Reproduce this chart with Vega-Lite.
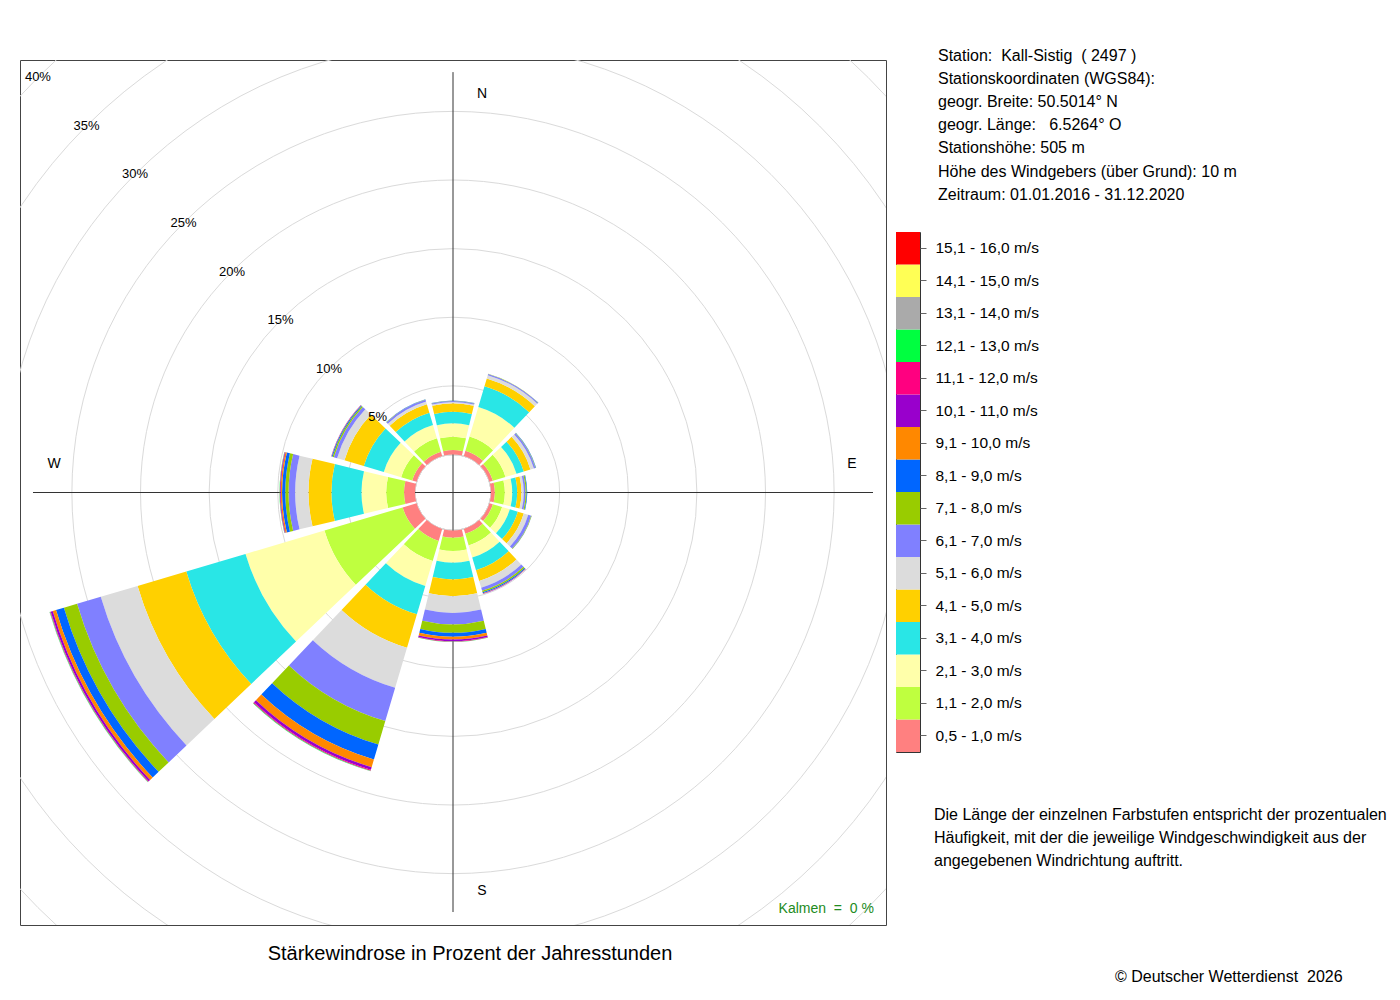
{
  "$schema": "https://vega.github.io/schema/vega-lite/v6.json",
  "padding": {"left": 19, "top": 47, "right": 0, "bottom": 0},
  "config": {
    "font": "Liberation Sans",
    "view": {"stroke": null},
    "title": {"font": "Liberation Sans", "fontWeight": "normal", "color": "black"}
  },
  "datasets": {
    "wind": [
      {"richtung": 0, "klasse": 1, "anteil": 0.33}, {"richtung": 0, "klasse": 2, "anteil": 0.97}, {"richtung": 0, "klasse": 3, "anteil": 0.97},
      {"richtung": 0, "klasse": 4, "anteil": 0.85}, {"richtung": 0, "klasse": 5, "anteil": 0.61}, {"richtung": 0, "klasse": 6, "anteil": 0.10},
      {"richtung": 0, "klasse": 7, "anteil": 0.07}, {"richtung": 0, "klasse": 8, "anteil": 0.02}, {"richtung": 0, "klasse": 9, "anteil": 0.01},

      {"richtung": 30, "klasse": 1, "anteil": 0.41}, {"richtung": 30, "klasse": 2, "anteil": 1.07}, {"richtung": 30, "klasse": 3, "anteil": 2.25},
      {"richtung": 30, "klasse": 4, "anteil": 1.57}, {"richtung": 30, "klasse": 5, "anteil": 0.60}, {"richtung": 30, "klasse": 6, "anteil": 0.25},
      {"richtung": 30, "klasse": 7, "anteil": 0.08}, {"richtung": 30, "klasse": 8, "anteil": 0.02}, {"richtung": 30, "klasse": 9, "anteil": 0.01},

      {"richtung": 60, "klasse": 1, "anteil": 0.26}, {"richtung": 60, "klasse": 2, "anteil": 0.96}, {"richtung": 60, "klasse": 3, "anteil": 0.84},
      {"richtung": 60, "klasse": 4, "anteil": 0.55}, {"richtung": 60, "klasse": 5, "anteil": 0.51}, {"richtung": 60, "klasse": 6, "anteil": 0.26},
      {"richtung": 60, "klasse": 7, "anteil": 0.12}, {"richtung": 60, "klasse": 8, "anteil": 0.03}, {"richtung": 60, "klasse": 9, "anteil": 0.02},

      {"richtung": 90, "klasse": 1, "anteil": 0.28}, {"richtung": 90, "klasse": 2, "anteil": 0.73}, {"richtung": 90, "klasse": 3, "anteil": 0.54},
      {"richtung": 90, "klasse": 4, "anteil": 0.36}, {"richtung": 90, "klasse": 5, "anteil": 0.31}, {"richtung": 90, "klasse": 6, "anteil": 0.17},
      {"richtung": 90, "klasse": 7, "anteil": 0.13}, {"richtung": 90, "klasse": 8, "anteil": 0.08}, {"richtung": 90, "klasse": 9, "anteil": 0.04},

      {"richtung": 120, "klasse": 1, "anteil": 0.26}, {"richtung": 120, "klasse": 2, "anteil": 0.70}, {"richtung": 120, "klasse": 3, "anteil": 0.59},
      {"richtung": 120, "klasse": 4, "anteil": 0.61}, {"richtung": 120, "klasse": 5, "anteil": 0.45}, {"richtung": 120, "klasse": 6, "anteil": 0.34},
      {"richtung": 120, "klasse": 7, "anteil": 0.22}, {"richtung": 120, "klasse": 8, "anteil": 0.04}, {"richtung": 120, "klasse": 9, "anteil": 0.01},

      {"richtung": 150, "klasse": 1, "anteil": 0.37}, {"richtung": 150, "klasse": 2, "anteil": 0.88}, {"richtung": 150, "klasse": 3, "anteil": 0.92},
      {"richtung": 150, "klasse": 4, "anteil": 0.96}, {"richtung": 150, "klasse": 5, "anteil": 0.82}, {"richtung": 150, "klasse": 6, "anteil": 0.51},
      {"richtung": 150, "klasse": 7, "anteil": 0.24}, {"richtung": 150, "klasse": 8, "anteil": 0.11}, {"richtung": 150, "klasse": 9, "anteil": 0.08},
      {"richtung": 150, "klasse": 10, "anteil": 0.03}, {"richtung": 150, "klasse": 11, "anteil": 0.02},

      {"richtung": 180, "klasse": 1, "anteil": 0.52}, {"richtung": 180, "klasse": 2, "anteil": 0.98}, {"richtung": 180, "klasse": 3, "anteil": 0.85},
      {"richtung": 180, "klasse": 4, "anteil": 1.21}, {"richtung": 180, "klasse": 5, "anteil": 1.22}, {"richtung": 180, "klasse": 6, "anteil": 1.22},
      {"richtung": 180, "klasse": 7, "anteil": 0.84}, {"richtung": 180, "klasse": 8, "anteil": 0.61}, {"richtung": 180, "klasse": 9, "anteil": 0.29},
      {"richtung": 180, "klasse": 10, "anteil": 0.20}, {"richtung": 180, "klasse": 11, "anteil": 0.12}, {"richtung": 180, "klasse": 12, "anteil": 0.03},
      {"richtung": 180, "klasse": 13, "anteil": 0.02},

      {"richtung": 210, "klasse": 1, "anteil": 0.91}, {"richtung": 210, "klasse": 2, "anteil": 1.53}, {"richtung": 210, "klasse": 3, "anteil": 1.90},
      {"richtung": 210, "klasse": 4, "anteil": 2.15}, {"richtung": 210, "klasse": 5, "anteil": 2.54}, {"richtung": 210, "klasse": 6, "anteil": 3.04},
      {"richtung": 210, "klasse": 7, "anteil": 2.53}, {"richtung": 210, "klasse": 8, "anteil": 1.78}, {"richtung": 210, "klasse": 9, "anteil": 1.14},
      {"richtung": 210, "klasse": 10, "anteil": 0.58}, {"richtung": 210, "klasse": 11, "anteil": 0.20}, {"richtung": 210, "klasse": 12, "anteil": 0.07},
      {"richtung": 210, "klasse": 13, "anteil": 0.03}, {"richtung": 210, "klasse": 14, "anteil": 0.01},

      {"richtung": 240, "klasse": 1, "anteil": 1.06}, {"richtung": 240, "klasse": 2, "anteil": 5.94}, {"richtung": 240, "klasse": 3, "anteil": 6.00},
      {"richtung": 240, "klasse": 4, "anteil": 4.50}, {"richtung": 240, "klasse": 5, "anteil": 3.70}, {"richtung": 240, "klasse": 6, "anteil": 2.80},
      {"richtung": 240, "klasse": 7, "anteil": 1.80}, {"richtung": 240, "klasse": 8, "anteil": 1.00}, {"richtung": 240, "klasse": 9, "anteil": 0.60},
      {"richtung": 240, "klasse": 10, "anteil": 0.25}, {"richtung": 240, "klasse": 11, "anteil": 0.15}, {"richtung": 240, "klasse": 12, "anteil": 0.05},
      {"richtung": 240, "klasse": 13, "anteil": 0.03}, {"richtung": 240, "klasse": 14, "anteil": 0.02},

      {"richtung": 270, "klasse": 1, "anteil": 0.80}, {"richtung": 270, "klasse": 2, "anteil": 1.30}, {"richtung": 270, "klasse": 3, "anteil": 1.80},
      {"richtung": 270, "klasse": 4, "anteil": 2.19}, {"richtung": 270, "klasse": 5, "anteil": 1.67}, {"richtung": 270, "klasse": 6, "anteil": 0.97},
      {"richtung": 270, "klasse": 7, "anteil": 0.48}, {"richtung": 270, "klasse": 8, "anteil": 0.24}, {"richtung": 270, "klasse": 9, "anteil": 0.23},
      {"richtung": 270, "klasse": 10, "anteil": 0.10}, {"richtung": 270, "klasse": 11, "anteil": 0.05}, {"richtung": 270, "klasse": 12, "anteil": 0.02},
      {"richtung": 270, "klasse": 13, "anteil": 0.02},

      {"richtung": 300, "klasse": 1, "anteil": 0.33}, {"richtung": 300, "klasse": 2, "anteil": 0.84}, {"richtung": 300, "klasse": 3, "anteil": 1.32},
      {"richtung": 300, "klasse": 4, "anteil": 1.52}, {"richtung": 300, "klasse": 5, "anteil": 1.47}, {"richtung": 300, "klasse": 6, "anteil": 0.56},
      {"richtung": 300, "klasse": 7, "anteil": 0.25}, {"richtung": 300, "klasse": 8, "anteil": 0.10}, {"richtung": 300, "klasse": 9, "anteil": 0.06},
      {"richtung": 300, "klasse": 10, "anteil": 0.02}, {"richtung": 300, "klasse": 11, "anteil": 0.02},

      {"richtung": 330, "klasse": 1, "anteil": 0.33}, {"richtung": 330, "klasse": 2, "anteil": 1.02}, {"richtung": 330, "klasse": 3, "anteil": 1.01},
      {"richtung": 330, "klasse": 4, "anteil": 0.94}, {"richtung": 330, "klasse": 5, "anteil": 0.63}, {"richtung": 330, "klasse": 6, "anteil": 0.21},
      {"richtung": 330, "klasse": 7, "anteil": 0.13}, {"richtung": 330, "klasse": 8, "anteil": 0.03}, {"richtung": 330, "klasse": 9, "anteil": 0.01}
    ],
    "klassen": [
      {"klasse": 1, "stufe": "0,5 - 1,0 m/s"},
      {"klasse": 2, "stufe": "1,1 - 2,0 m/s"},
      {"klasse": 3, "stufe": "2,1 - 3,0 m/s"},
      {"klasse": 4, "stufe": "3,1 - 4,0 m/s"},
      {"klasse": 5, "stufe": "4,1 - 5,0 m/s"},
      {"klasse": 6, "stufe": "5,1 - 6,0 m/s"},
      {"klasse": 7, "stufe": "6,1 - 7,0 m/s"},
      {"klasse": 8, "stufe": "7,1 - 8,0 m/s"},
      {"klasse": 9, "stufe": "8,1 - 9,0 m/s"},
      {"klasse": 10, "stufe": "9,1 - 10,0 m/s"},
      {"klasse": 11, "stufe": "10,1 - 11,0 m/s"},
      {"klasse": 12, "stufe": "11,1 - 12,0 m/s"},
      {"klasse": 13, "stufe": "12,1 - 13,0 m/s"},
      {"klasse": 14, "stufe": "13,1 - 14,0 m/s"},
      {"klasse": 15, "stufe": "14,1 - 15,0 m/s"},
      {"klasse": 16, "stufe": "15,1 - 16,0 m/s"}
    ],
    "ringe": [
      {"ring": 5, "text": "5%"}, {"ring": 10, "text": "10%"}, {"ring": 15, "text": "15%"}, {"ring": 20, "text": "20%"},
      {"ring": 25, "text": "25%"}, {"ring": 30, "text": "30%"}, {"ring": 35, "text": "35%"}, {"ring": 40, "text": "40%"}
    ],
    "himmelsrichtungen": [
      {"richtung": 0, "name": "N"}, {"richtung": 90, "name": "E"}, {"richtung": 180, "name": "S"}, {"richtung": 270, "name": "W"}
    ],
    "kalmen": [{"anteil": 0, "text": "Kalmen\u00a0 =\u00a0 0 %"}],
    "station": [
      {"zeile": 1, "text": "Station:\u00a0 Kall-Sistig\u00a0 ( 2497 )"},
      {"zeile": 2, "text": "Stationskoordinaten (WGS84):"},
      {"zeile": 3, "text": "geogr. Breite: 50.5014° N"},
      {"zeile": 4, "text": "geogr. Länge:\u00a0\u00a0 6.5264° O"},
      {"zeile": 5, "text": "Stationshöhe: 505 m"},
      {"zeile": 6, "text": "Höhe des Windgebers (über Grund): 10 m"},
      {"zeile": 7, "text": "Zeitraum: 01.01.2016 - 31.12.2020"}
    ],
    "hinweis": [
      {"zeile": 1, "text": "Die Länge der einzelnen Farbstufen entspricht der prozentualen"},
      {"zeile": 2, "text": "Häufigkeit, mit der die jeweilige Windgeschwindigkeit aus der"},
      {"zeile": 3, "text": "angegebenen Windrichtung auftritt."}
    ]
  },
  "bounds": "flush",
  "spacing": 10,
  "hconcat": [
    {
      "width": 866,
      "height": 865,
      "view": {"stroke": "#444", "strokeWidth": 1},
      "title": {
        "text": "Stärkewindrose in Prozent der Jahresstunden",
        "orient": "bottom",
        "fontSize": 20,
        "offset": 19,
        "dx": 17
      },
      "layer": [
        {
          "data": {"name": "ringe"},
          "mark": {"type": "arc", "filled": false, "stroke": "#dadada", "strokeWidth": 1, "clip": true},
          "encoding": {
            "theta": {"datum": 0, "scale": {"domain": [0, 360], "range": [0, 6.283185307179586]}},
            "theta2": {"datum": 360},
            "radius": {"field": "ring", "type": "quantitative", "stack": null, "scale": {"type": "linear", "domain": [0, 40], "range": [38, 587]}}
          }
        },
        {
          "data": {"values": [{}]},
          "mark": {"type": "rule", "color": "#333", "strokeWidth": 1},
          "encoding": {
            "x": {"datum": 0, "scale": {"domain": [-1, 1]}, "axis": null},
            "y": {"datum": -0.97, "scale": {"domain": [-1, 1]}, "axis": null},
            "y2": {"datum": 0.972}
          }
        },
        {
          "data": {"values": [{}]},
          "mark": {"type": "rule", "color": "#333", "strokeWidth": 1},
          "encoding": {
            "y": {"datum": 0, "scale": {"domain": [-1, 1]}, "axis": null},
            "x": {"datum": -0.97, "scale": {"domain": [-1, 1]}, "axis": null},
            "x2": {"datum": 0.97}
          }
        },
        {
          "data": {"name": "wind"},
          "transform": [
            {"stack": "anteil", "groupby": ["richtung"], "sort": [{"field": "klasse", "order": "ascending"}], "as": ["r_innen", "r_aussen"]},
            {"calculate": "datum.richtung - 13.5", "as": "winkel_von"},
            {"calculate": "datum.richtung + 13.5", "as": "winkel_bis"}
          ],
          "mark": {"type": "arc"},
          "encoding": {
            "theta": {"field": "winkel_von", "type": "quantitative", "stack": null, "scale": {"domain": [0, 360], "range": [0, 6.283185307179586]}},
            "theta2": {"field": "winkel_bis"},
            "radius": {"field": "r_aussen", "type": "quantitative", "stack": null, "scale": {"type": "linear", "domain": [0, 40], "range": [38, 587]}},
            "radius2": {"field": "r_innen"},
            "color": {
              "field": "klasse",
              "type": "ordinal",
              "scale": {
                "domain": [1, 2, 3, 4, 5, 6, 7, 8, 9, 10, 11, 12, 13, 14, 15, 16],
                "range": ["#ff8080", "#bfff3f", "#ffffaa", "#29e6e6", "#ffd000", "#dcdcdc", "#8080ff", "#99cc00",
                          "#0066ff", "#ff8800", "#9900cc", "#ff0080", "#00ff40", "#aaaaaa", "#ffff55", "#ff0000"]
              },
              "legend": null
            },
            "tooltip": [
              {"field": "richtung", "title": "Richtung (°)"},
              {"field": "klasse"},
              {"field": "anteil", "title": "Anteil (%)"}
            ]
          }
        },
        {
          "data": {"name": "ringe"},
          "mark": {"type": "text", "fontSize": 13, "color": "black", "align": "center", "baseline": "middle"},
          "encoding": {
            "theta": {"datum": 315},
            "radius": {"field": "ring", "type": "quantitative", "stack": null},
            "text": {"field": "text"}
          }
        },
        {
          "data": {"name": "himmelsrichtungen"},
          "transform": [{"filter": "datum.richtung == 0 || datum.richtung == 180"}],
          "mark": {"type": "text", "fontSize": 14, "color": "black", "dx": 29, "align": "center", "baseline": "middle"},
          "encoding": {
            "theta": {"field": "richtung", "type": "quantitative", "stack": null},
            "radius": {"datum": 26.3},
            "text": {"field": "name"}
          }
        },
        {
          "data": {"name": "himmelsrichtungen"},
          "transform": [{"filter": "datum.richtung == 90 || datum.richtung == 270"}],
          "mark": {"type": "text", "fontSize": 14, "color": "black", "dy": -29, "align": "center", "baseline": "middle"},
          "encoding": {
            "theta": {"field": "richtung", "type": "quantitative", "stack": null},
            "radius": {"datum": 26.3},
            "text": {"field": "name"}
          }
        },
        {
          "data": {"name": "kalmen"},
          "mark": {"type": "text", "fontSize": 14, "color": "#228b22", "align": "right", "baseline": "middle"},
          "encoding": {
            "x": {"datum": 0.972, "scale": {"domain": [-1, 1]}, "axis": null},
            "y": {"datum": -0.962, "scale": {"domain": [-1, 1]}, "axis": null},
            "text": {"field": "text"}
          }
        }
      ]
    },
    {
      "bounds": "flush",
      "spacing": 33,
      "vconcat": [
        {
          "width": 84,
          "height": 139,
          "data": {"name": "station"},
          "mark": {"type": "text", "align": "left", "baseline": "alphabetic", "dy": 0.7, "fontSize": 16, "color": "black"},
          "encoding": {
            "y": {"field": "zeile", "type": "ordinal", "scale": {"type": "point", "padding": 0}, "axis": null},
            "text": {"field": "text"}
          }
        },
        {
          "width": 24,
          "height": 520,
          "data": {"name": "klassen"},
          "view": {"stroke": "#333", "strokeWidth": 1},
          "mark": {"type": "rect"},
          "encoding": {
            "y": {
              "field": "stufe",
              "type": "nominal",
              "sort": {"field": "klasse", "order": "descending"},
              "scale": {"paddingInner": 0, "paddingOuter": 0},
              "axis": {
                "orient": "right",
                "title": null,
                "domain": false,
                "tickSize": 6,
                "tickColor": "#666",
                "labelPadding": 9,
                "labelFontSize": 15.5,
                "labelColor": "black",
                "labelFont": "Liberation Sans"
              }
            },
            "color": {
              "field": "klasse",
              "type": "ordinal",
              "scale": {
                "domain": [1, 2, 3, 4, 5, 6, 7, 8, 9, 10, 11, 12, 13, 14, 15, 16],
                "range": ["#ff8080", "#bfff3f", "#ffffaa", "#29e6e6", "#ffd000", "#dcdcdc", "#8080ff", "#99cc00",
                          "#0066ff", "#ff8800", "#9900cc", "#ff0080", "#00ff40", "#aaaaaa", "#ffff55", "#ff0000"]
              },
              "legend": null
            }
          }
        },
        {
          "width": 76,
          "height": 46,
          "data": {"name": "hinweis"},
          "title": {
            "text": "© Deutscher Wetterdienst\u00a0 2026",
            "orient": "bottom",
            "anchor": "start",
            "fontSize": 16,
            "dx": 219,
            "offset": 100
          },
          "mark": {"type": "text", "align": "left", "baseline": "alphabetic", "dy": 34.7, "fontSize": 16, "color": "black"},
          "encoding": {
            "y": {"field": "zeile", "type": "ordinal", "scale": {"type": "point", "padding": 0}, "axis": null},
            "text": {"field": "text"}
          }
        }
      ]
    }
  ]
}
